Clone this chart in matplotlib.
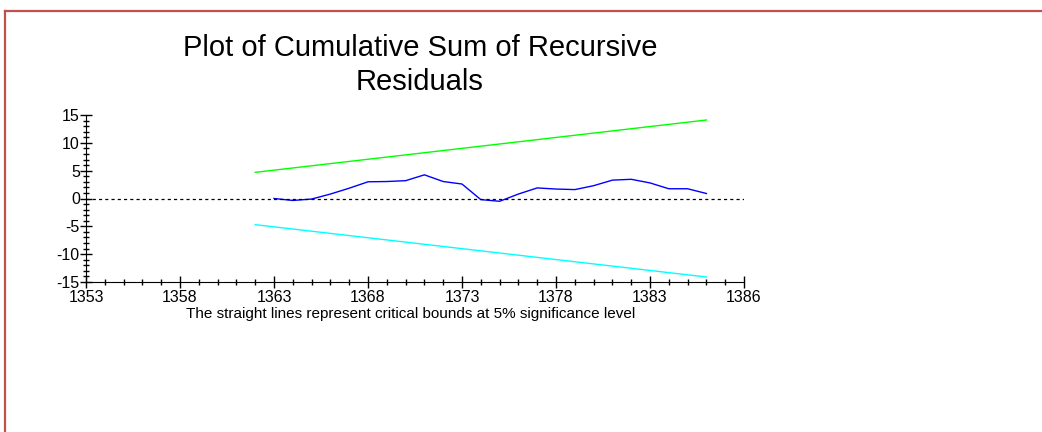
import matplotlib
matplotlib.use("Agg")
import matplotlib.pyplot as plt
from matplotlib.lines import Line2D
from matplotlib.ticker import MultipleLocator

plt.rcParams["font.family"] = ["Liberation Sans", "DejaVu Sans"]
plt.rcParams["axes.unicode_minus"] = False

# recursive residual cusum, 1363-1386
years = list(range(1363, 1387))
cusum = [0.0, -0.35, -0.1, 0.8, 1.85, 3.0, 3.05, 3.2, 4.25, 3.05, 2.6, -0.2,
         -0.5, 0.8, 1.9, 1.7, 1.6, 2.3, 3.3, 3.45, 2.8, 1.75, 1.75, 0.9]

# 5% critical bounds
bound_years = [1362, 1386]
upper = [4.7, 14.1]
lower = [-4.7, -14.1]

xticks = [1353, 1358, 1363, 1368, 1373, 1378, 1383, 1388]
xticklabels = ["1353", "1358", "1363", "1368", "1373", "1378", "1383", "1386"]
yticks = [-15, -10, -5, 0, 5, 10, 15]

fig = plt.figure(figsize=(10.42, 4.32), dpi=100)
ax = fig.add_axes([86 / 1042, 150 / 432, 658 / 1042, 167 / 432])

ax.plot(bound_years, upper, color="#00ff00", lw=1.0)
ax.plot(bound_years, lower, color="#00ffff", lw=1.0)
ax.plot(years, cusum, color="#0000ff", lw=1.0)
ax.axhline(0, color="black", lw=0.9, ls=(0, (2.5, 2.5)))

ax.set_xlim(1353, 1388)
ax.set_ylim(-15, 15)
ax.set_xticks(xticks)
ax.set_xticklabels(xticklabels)
ax.set_yticks(yticks)
ax.xaxis.set_minor_locator(MultipleLocator(1))
ax.yaxis.set_minor_locator(MultipleLocator(1))
ax.tick_params(which="major", direction="inout", length=9, width=1, labelsize=11.5, pad=0)
ax.tick_params(axis="x", which="major", pad=1)
ax.tick_params(which="minor", direction="inout", length=5, width=1)
ax.spines["top"].set_visible(False)
ax.spines["right"].set_visible(False)

fig.text(420 / 1042, 1 - 65 / 432, "Plot of Cumulative Sum of Recursive\nResiduals",
         ha="center", va="center", fontsize=21, linespacing=1.3)
fig.text(411 / 1042, 1 - 314 / 432,
         "The straight lines represent critical bounds at 5% significance level",
         ha="center", va="center", fontsize=11)

# red frame around the chart area
red = "#c0504d"
fig.add_artist(Line2D([5 / 1042, 5 / 1042], [0, 1 - 11 / 432], transform=fig.transFigure,
                      color=red, lw=1.6))
fig.add_artist(Line2D([5 / 1042, 1], [1 - 11 / 432, 1 - 11 / 432], transform=fig.transFigure,
                      color=red, lw=1.6))

fig.savefig("out.png", dpi=100)
